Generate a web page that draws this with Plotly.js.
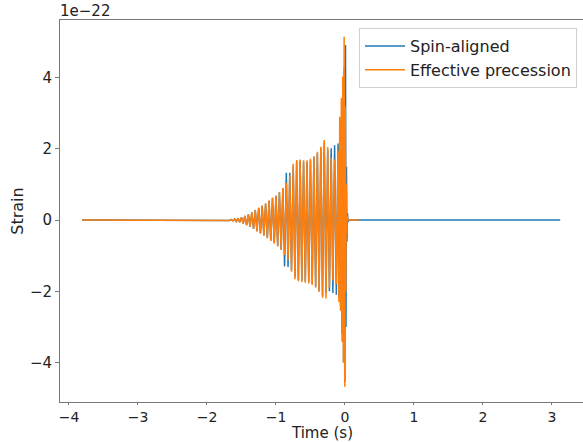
<!DOCTYPE html>
<html>
<head>
<meta charset="utf-8">
<script src="https://cdn.plot.ly/plotly-3.0.1.min.js"></script>
<style>html,body{margin:0;padding:0;background:#fff;}#chart{width:583px;height:442px;}</style>
</head>
<body>
<div id="chart"></div>
<script>
// Strain values in units of 1e-22
const timeSpinAligned = [
  -3.810, -1.725,
  -1.700,-1.675,-1.650,-1.625,-1.600,-1.575,-1.550,-1.525,-1.500,-1.475,-1.450,-1.425,-1.400,-1.375,-1.350,-1.325,
  -1.300,-1.275,-1.250,-1.225,-1.200,-1.175,-1.150,-1.125,-1.100,-1.075,-1.050,-1.025,-1.000,-0.975,-0.950,-0.925,
  -0.900,-0.875,-0.850,-0.825,-0.800,-0.775,-0.750,-0.725,-0.700,-0.675,-0.650,-0.625,-0.600,-0.575,-0.550,-0.525,
  -0.500,-0.475,-0.450,-0.425,-0.400,-0.375,-0.350,-0.325,-0.300,-0.275,-0.250,-0.225,-0.200,-0.175,-0.150,-0.125,-0.100,
  -0.088,-0.076,-0.064,-0.052,-0.042,-0.030,-0.020,-0.010,-0.001,0.008,0.015,0.022,0.029,0.036,0.045,0.060,3.120
];
const strainSpinAligned = [
  0, 0,
  0.005,-0.01,0.015,-0.02,0.03,-0.04,0.05,-0.06,0.08,-0.10,0.12,-0.14,0.16,-0.19,0.22,-0.25,
  0.28,-0.31,0.34,-0.37,0.40,-0.43,0.46,-0.50,0.54,-0.58,0.62,-0.65,0.68,-0.73,0.78,-0.83,
  0.89,-1.30,1.33,-1.32,1.33,-1.40,1.50,-1.60,1.64,-1.68,1.66,-1.70,1.64,-1.72,1.64,-1.74,
  1.68,-1.78,1.76,-1.86,1.88,-1.98,2.02,-2.12,2.18,-2.05,1.98,-2.00,2.02,-2.05,2.10,-2.10,2.15,
  -2.15,2.25,-2.40,2.80,-3.20,3.60,-4.00,4.30,-4.55,4.92,-3.00,1.50,-0.60,0.20,-0.05,0,0
];
const timePrecession = [
  -3.810, -1.725,
  -1.700,-1.675,-1.650,-1.625,-1.600,-1.575,-1.550,-1.525,-1.500,-1.475,-1.450,-1.425,-1.400,-1.375,-1.350,-1.325,
  -1.300,-1.275,-1.250,-1.225,-1.200,-1.175,-1.150,-1.125,-1.100,-1.075,-1.050,-1.025,-1.000,-0.975,-0.950,-0.925,
  -0.900,-0.875,-0.850,-0.825,-0.800,-0.775,-0.750,-0.725,-0.700,-0.675,-0.650,-0.625,-0.600,-0.575,-0.550,-0.525,
  -0.500,-0.475,-0.450,-0.425,-0.400,-0.375,-0.350,-0.325,-0.300,-0.275,-0.250,-0.225,-0.200,-0.175,-0.150,-0.125,-0.100,
  -0.088,-0.076,-0.064,-0.052,-0.042,-0.032,-0.022,-0.012,-0.003,0.005,0.012,0.019,0.026,0.034,0.045,0.200
];
const strainPrecession = [
  0, 0,
  0.005,-0.01,0.015,-0.02,0.03,-0.04,0.05,-0.06,0.08,-0.10,0.12,-0.14,0.16,-0.19,0.22,-0.25,
  0.29,-0.32,0.35,-0.38,0.41,-0.44,0.47,-0.51,0.55,-0.59,0.63,-0.66,0.69,-0.74,0.79,-0.84,
  0.90,-0.98,1.04,-1.12,1.25,-1.45,1.58,-1.66,1.69,-1.72,1.70,-1.74,1.68,-1.76,1.68,-1.78,
  1.72,-1.82,1.80,-1.90,1.92,-2.02,2.06,-2.18,2.25,-2.20,2.05,-1.90,1.75,-1.70,1.70,-1.80,1.95,
  -2.30,2.90,-2.55,3.43,-3.42,4.03,-4.00,5.15,-4.68,3.20,-2.00,1.00,-0.40,0.12,0,0
];
const seriesNames = ['Spin-aligned', 'Effective precession'];
const xTicks = [-4, -3, -2, -1, 0, 1, 2, 3];
const yTicks = [-4, -2, 0, 2, 4];

const font = 'DejaVu Sans, sans-serif';
const traces = [
  {x: timeSpinAligned, y: strainSpinAligned, name: seriesNames[0], type: 'scatter', mode: 'lines',
   line: {color: '#1f77b4', width: 1.5}},
  {x: timePrecession, y: strainPrecession, name: seriesNames[1], type: 'scatter', mode: 'lines',
   line: {color: '#ff7f0e', width: 1.5}}
];
const layout = {
  width: 583, height: 442,
  margin: {l: 60, r: 0, t: 20, b: 40},
  paper_bgcolor: '#fff', plot_bgcolor: '#fff',
  font: {family: font, size: 15, color: '#222'},
  showlegend: true,
  legend: {x: 0.9885, y: 0.979, xanchor: 'right', yanchor: 'top', bgcolor: '#fff',
           bordercolor: '#d0d0d0', borderwidth: 1, itemwidth: 40, font: {family: font, size: 16, color: '#222'}},
  xaxis: {range: [-4.13, 3.45], tickvals: xTicks, ticks: 'outside', ticklen: 2, tickcolor: '#777',
          showline: true, linecolor: '#777', linewidth: 1, mirror: true, showgrid: false, zeroline: false,
          tickfont: {size: 14}},
  yaxis: {range: [-5.11, 5.62], tickvals: yTicks, ticks: 'outside', ticklen: 4, tickcolor: '#777',
          showline: true, linecolor: '#777', linewidth: 1, showgrid: false, zeroline: false,
          tickfont: {size: 15}, title: {text: 'Strain', font: {size: 16}, standoff: 2}},
  annotations: [
    {text: '1e\u221222', xref: 'paper', yref: 'paper', x: 0, y: 1, xanchor: 'left', yanchor: 'bottom',
     showarrow: false, font: {family: font, size: 15, color: '#222'}, xshift: -2, yshift: -2},
    {text: 'Time (s)', xref: 'paper', yref: 'paper', x: 0.5, y: -0.1045, xanchor: 'center', yanchor: 'bottom',
     showarrow: false, borderpad: 0, font: {family: font, size: 15, color: '#222'}, yshift: -1}
  ]
};
Plotly.newPlot('chart', traces, layout, {displayModeBar: false, staticPlot: true});
</script>
</body>
</html>
